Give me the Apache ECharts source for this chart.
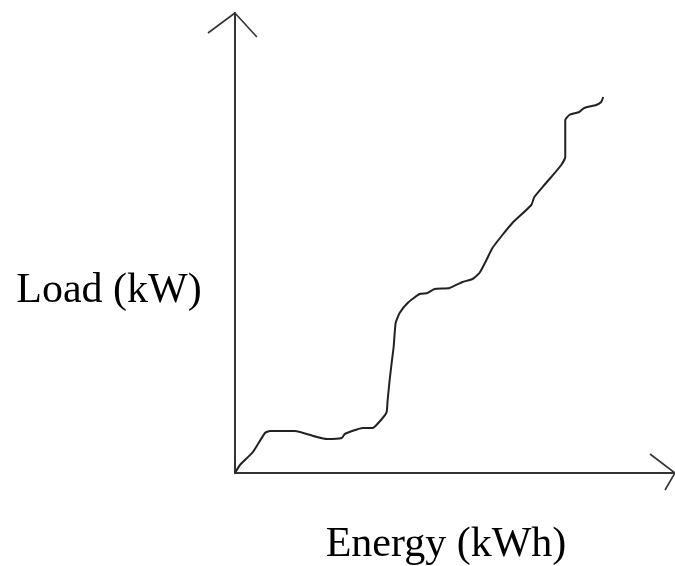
<!DOCTYPE html>
<html>
<head>
<meta charset="utf-8">
<script src="https://cdn.jsdelivr.net/npm/echarts@6/dist/echarts.min.js"></script>
<style>html,body{margin:0;padding:0;background:#fff;}#c{width:675px;height:566px;}</style>
</head>
<body>
<div id="c"></div>
<script>
// Curve values (arbitrary units)
var energy = [0,5,18,30,35,60,82,92,107,110,128,138,148,152,153,155,157,159,161,165,173,185,193,200,215,228,238,245,252,258,268,278,297,300,310,317,327,331,331,335,345,350,362,367,369];
var load   = [0,8,21,40,42,42,36,34,35,39,45,45,55,61,73,93,110,126,150,160,170,179,180,184,185,191,194,200,213,225,238,250,268,276,288,296,308,316,353,358,361,365,368,371,376];
// Hand-drawn arrow heads at the axis ends (same units as the curve)
var yArrowX = [-27, 0, 22];
var yArrowY = [440, 460, 436];
var xArrowX = [416, 441, 431];
var xArrowY = [19, 0, -17];
var xName = 'Energy (kWh)';
var yName = 'Load (kW)';

function zip(a, b) { return a.map(function (v, i) { return [v, b[i]]; }); }

var chart = echarts.init(document.getElementById('c'));
function axis(extra, showLine) {
  return Object.assign({
    type: 'value',
    axisLabel: { show: false },
    axisTick: { show: false },
    splitLine: { show: false },
    axisLine: { show: showLine, onZero: false, lineStyle: { color: '#333', width: 2 } }
  }, extra);
}
var arrowStyle = { color: '#333', width: 1.6 };
chart.setOption({
  animation: false,
  backgroundColor: '#ffffff',
  grid: [
    { left: 235, top: 13, width: 441, height: 460 },
    // same scale, wider extent, so the arrow heads sit inside it
    { left: 205, top: 13, width: 471, height: 480 }
  ],
  xAxis: [
    axis({ gridIndex: 0, min: 0, max: 441 }, true),
    axis({ gridIndex: 1, min: -30, max: 441 }, false)
  ],
  yAxis: [
    axis({ gridIndex: 0, min: 0, max: 460 }, true),
    axis({ gridIndex: 1, min: -20, max: 460 }, false)
  ],
  series: [
    {
      type: 'line', xAxisIndex: 0, yAxisIndex: 0, data: zip(energy, load), showSymbol: false, smooth: 0.15,
      lineStyle: { color: '#222', width: 2 }, clip: false
    },
    { type: 'line', xAxisIndex: 1, yAxisIndex: 1, data: zip(yArrowX, yArrowY), showSymbol: false, lineStyle: arrowStyle, clip: false },
    { type: 'line', xAxisIndex: 1, yAxisIndex: 1, data: zip(xArrowX, xArrowY), showSymbol: false, lineStyle: arrowStyle, clip: false }
  ],
  graphic: [
    { type: 'text', x: 109, y: 291, style: { text: yName, font: '42px "Liberation Serif", "Times New Roman", serif', fill: '#000', align: 'center', verticalAlign: 'middle' } },
    { type: 'text', x: 446, y: 545, style: { text: xName, font: '42px "Liberation Serif", "Times New Roman", serif', fill: '#000', align: 'center', verticalAlign: 'middle' } }
  ]
});
</script>
</body>
</html>
